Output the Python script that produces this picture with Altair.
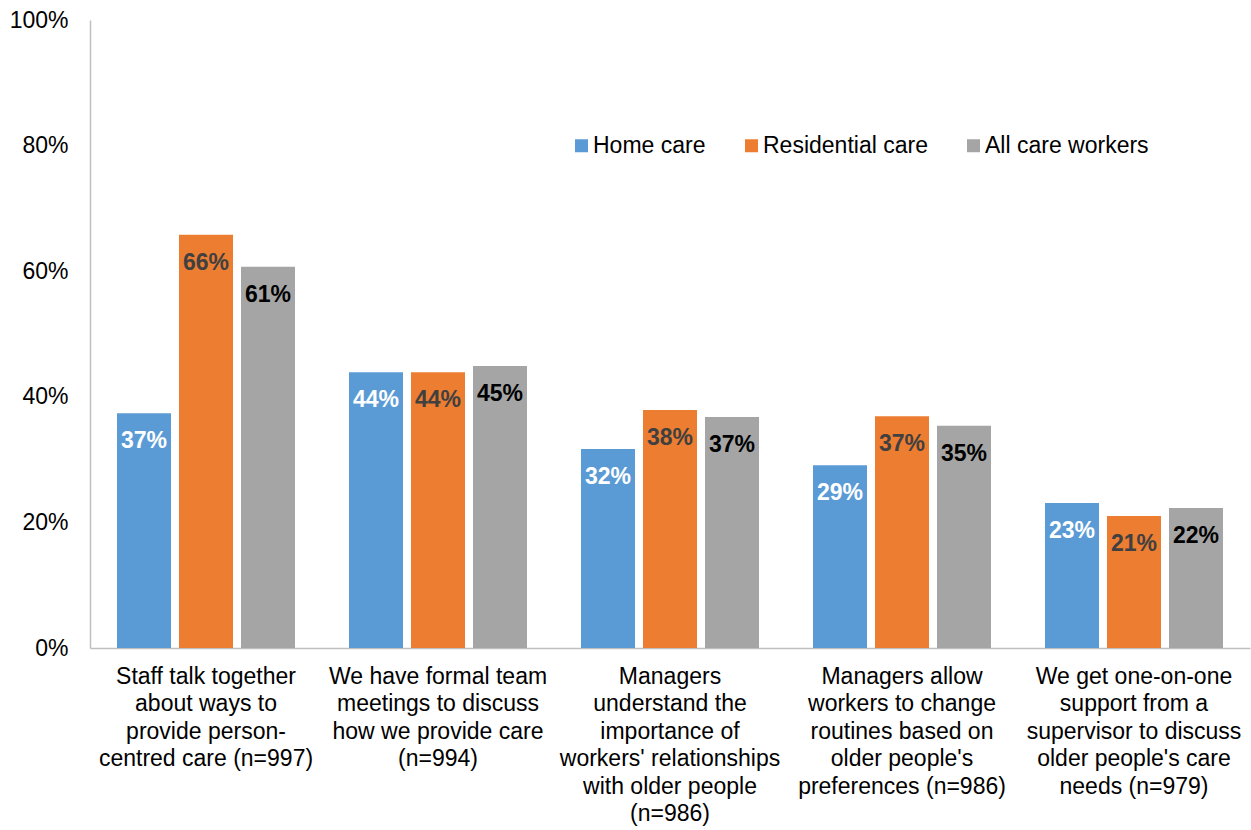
import altair as alt
import pandas as pd

categories = [
    "Staff talk together|about ways to|provide person-|centred care (n=997)",
    "We have formal team|meetings to discuss|how we provide care|(n=994)",
    "Managers|understand the|importance of|workers' relationships|with older people|(n=986)",
    "Managers allow|workers to change|routines based on|older people's|preferences (n=986)",
    "We get one-on-one|support from a|supervisor to discuss|older people's care|needs (n=979)",
]
series = ["Home care", "Residential care", "All care workers"]
home_care = [37.4, 43.9, 31.7, 29.1, 23.1]
residential_care = [65.8, 43.9, 37.9, 36.9, 21.0]
all_care_workers = [60.7, 44.9, 36.8, 35.4, 22.3]
bar_colors = ["#5B9BD5", "#ED7D31", "#A5A5A5"]
label_colors = ["#FFFFFF", "#404040", "#000000"]

rows = []
for s, vals, lc in zip(series, [home_care, residential_care, all_care_workers], label_colors):
    for c, v in zip(categories, vals):
        rows.append({"category": c, "series": s, "value": v, "label_color": lc})
df = pd.DataFrame(rows)

FONT = "Liberation Sans"

x = alt.X(
    "category:N",
    sort=categories,
    scale=alt.Scale(paddingInner=54 / 232, paddingOuter=27 / 232),
    axis=alt.Axis(
        title=None,
        labelAngle=0,
        labelExpr="split(datum.label, '|')",
        labelFontSize=23,
        labelFont=FONT,
        labelColor="#000000",
        labelLineHeight=27.5,
        labelBaseline="top",
        labelPadding=17,
        labelLimit=400,
        ticks=False,
        domainColor="#BFBFBF",
        domainWidth=1.5,
    ),
)
xoff = alt.XOffset("series:N", sort=series, scale=alt.Scale(paddingInner=8 / 62, paddingOuter=0))
y = alt.Y(
    "value:Q",
    scale=alt.Scale(domain=[0, 100], nice=False),
    axis=alt.Axis(
        title=None,
        values=[0, 20, 40, 60, 80, 100],
        labelExpr="datum.value + '%'",
        labelFontSize=23,
        labelFont=FONT,
        labelColor="#000000",
        labelPadding=22,
        ticks=False,
        grid=False,
        domainColor="#BFBFBF",
        domainWidth=1.5,
    ),
)

bars = alt.Chart(df).mark_bar().encode(
    x=x,
    xOffset=xoff,
    y=y,
    color=alt.Color(
        "series:N",
        sort=series,
        scale=alt.Scale(domain=series, range=bar_colors),
        legend=alt.Legend(
            title=None,
            orient="none",
            direction="horizontal",
            legendX=480,
            legendY=114,
            symbolType="square",
            symbolSize=169,
            symbolStrokeWidth=0,
            labelFontSize=23,
            labelFont=FONT,
            labelColor="#000000",
            labelOffset=0,
            labelLimit=400,
            columnPadding=34,
        ),
    ),
)

labels = alt.Chart(df).transform_calculate(
    label="format(round(datum.value), 'd') + '%'"
).mark_text(
    baseline="middle", align="center", dy=28, fontSize=23, fontWeight="bold", font=FONT
).encode(
    x=x,
    xOffset=xoff,
    y=y,
    text="label:N",
    color=alt.Color("label_color:N", scale=None),
)

chart = (
    alt.layer(bars, labels)
    .properties(
        width=1160,
        height=628,
        padding={"left": 90, "top": 20, "right": 1, "bottom": 182},
        autosize=alt.AutoSizeParams(type="none"),
    )
    .configure(font=FONT)
    .configure_view(strokeWidth=0, stroke="transparent")
)

chart.save("out.html", embed_options={"renderer": "svg", "actions": False})
